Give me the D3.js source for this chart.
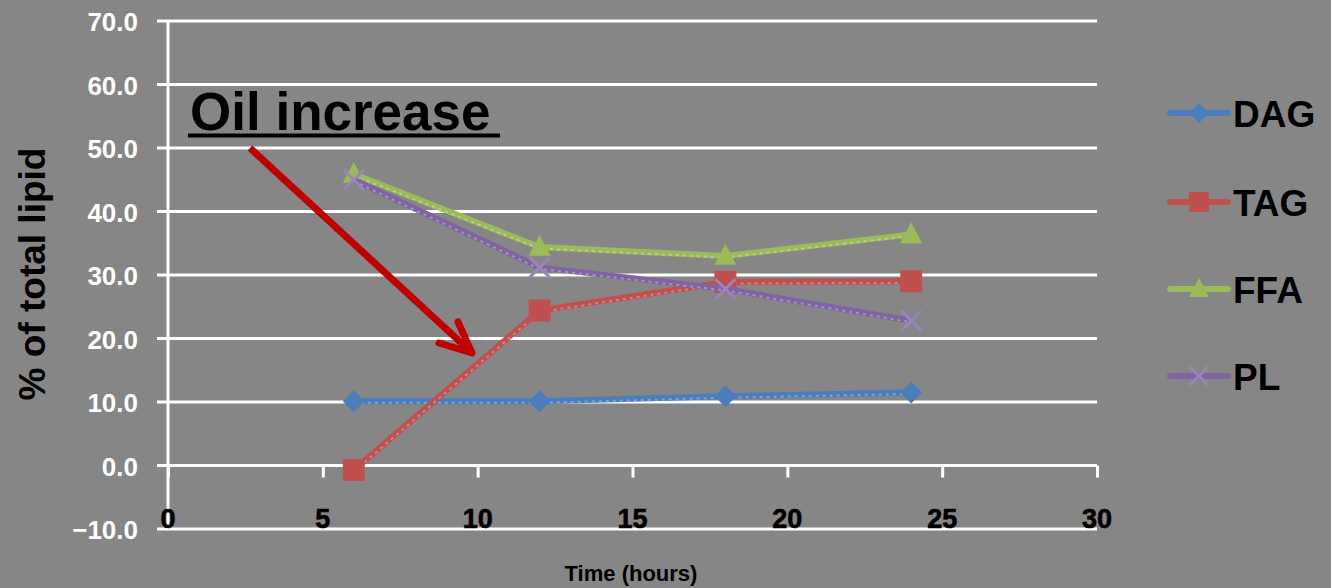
<!DOCTYPE html>
<html lang="en">
<head>
<meta charset="UTF-8">
<title>Lipid composition over time</title>
<style>
  body { margin: 0; background: #868686; }
  svg { display: block; }
  text { font-family: "Liberation Sans", Arial, sans-serif; font-weight: bold; }
  .grid { stroke: #fff; stroke-width: 3; }
  .domain { display: none; }
</style>
</head>
<body>
<svg width="1331" height="588"></svg>
<script src="https://d3js.org/d3.v7.min.js"></script>
<script>
// data
var hours = [6, 12, 18, 24];
var dag = [10.1, 10.1, 10.9, 11.5];
var tag = [-0.7, 24.4, 28.9, 29.0];
var ffa = [45.9, 34.4, 33.0, 36.4];
var pl  = [45.0, 31.2, 27.8, 22.8];
var seriesNames = ["DAG", "TAG", "FFA", "PL"];
var seriesColors = ["#4a7ebb", "#c0504d", "#9bbb59", "#8064a2"];
var xTicks = [0, 5, 10, 15, 20, 25, 30];
var yTicks = [-10, 0, 10, 20, 30, 40, 50, 60, 70];

var series = [dag, tag, ffa, pl].map(function(vals, i) {
  return { name: seriesNames[i], color: seriesColors[i],
           points: vals.map(function(v, j) { return { x: hours[j], y: v }; }) };
});

var svg = d3.select("svg");

var x = d3.scaleLinear().domain([0, 30]).range([168, 1097]);
var y = d3.scaleLinear().domain([-10, 70]).range([529, 21]);

// horizontal grid lines
svg.append("g").selectAll("line")
  .data(yTicks)
  .enter().append("line")
  .attr("class", "grid")
  .attr("x1", x(0) - 11).attr("x2", x(30))
  .attr("y1", function(d) { return y(d); })
  .attr("y2", function(d) { return y(d); });

// vertical axis line
svg.append("line")
  .attr("class", "grid")
  .attr("x1", x(0)).attr("x2", x(0))
  .attr("y1", y(70)).attr("y2", y(-10));

// y axis labels
svg.append("g").selectAll("text")
  .data(yTicks)
  .enter().append("text")
  .attr("x", 138)
  .attr("y", function(d) { return y(d) + 10; })
  .attr("text-anchor", "end")
  .attr("font-size", 26)
  .attr("fill", "#ffffff")
  .text(d3.format(".1f"));

// x axis ticks on the zero line
var xAxis = svg.append("g")
  .attr("transform", "translate(0," + y(0) + ")")
  .call(d3.axisBottom(x).tickValues(xTicks).tickSize(12).tickFormat(""));
xAxis.selectAll("line").attr("stroke", "#fff").attr("stroke-width", 3);

// x labels sit between the 0 and -10 lines
svg.append("g").selectAll("text")
  .data(xTicks)
  .enter().append("text")
  .attr("x", function(d) { return x(d); })
  .attr("y", 528)
  .attr("text-anchor", "middle")
  .attr("font-size", 27)
  .attr("fill", "#000000")
  .attr("stroke", "#000000")
  .attr("stroke-width", 0.6)
  .text(function(d) { return d; });

// axis titles
svg.append("text")
  .attr("transform", "translate(45,274) rotate(-90)")
  .attr("text-anchor", "middle")
  .attr("font-size", 37)
  .attr("fill", "#000")
  .text("% of total lipid");

svg.append("text")
  .attr("x", 631).attr("y", 581)
  .attr("text-anchor", "middle")
  .attr("font-size", 22)
  .attr("fill", "#000")
  .text("Time (hours)");

// marker shapes
function markerPath(name, s) {
  if (name === "DAG") return "M0," + -s + "L" + s + ",0L0," + s + "L" + -s + ",0Z";
  if (name === "TAG") return "M" + -s + "," + -s + "H" + s + "V" + s + "H" + -s + "Z";
  if (name === "FFA") return "M0," + (-s * 1.1) + "L" + s + "," + (s * 0.8) + "L" + -s + "," + (s * 0.8) + "Z";
  return "M" + -s + "," + -s + "L" + s + "," + s + "M" + s + "," + -s + "L" + -s + "," + s;
}

var line = d3.line()
  .x(function(d) { return x(d.x); })
  .y(function(d) { return y(d.y); });

var sg = svg.append("g").selectAll("g")
  .data(series)
  .enter().append("g");

sg.append("path")
  .attr("d", function(d) { return line(d.points); })
  .attr("fill", "none")
  .attr("stroke", function(d) { return d.color; })
  .attr("stroke-width", 6)
  .attr("stroke-linejoin", "round");

sg.append("path")
  .attr("d", function(d) { return line(d.points); })
  .attr("transform", "translate(0,1.5)")
  .attr("fill", "none")
  .attr("stroke", "#fff")
  .attr("stroke-opacity", 0.3)
  .attr("stroke-width", 2)
  .attr("stroke-dasharray", "3,4");

sg.selectAll(".mk")
  .data(function(d) { return d.points.map(function(p) { return { p: p, s: d }; }); })
  .enter().append("path")
  .attr("class", "mk")
  .attr("transform", function(d) { return "translate(" + x(d.p.x) + "," + y(d.p.y) + ")"; })
  .attr("d", function(d) { return markerPath(d.s.name, d.s.name === "PL" ? 10 : 11); })
  .attr("fill", function(d) { return d.s.name === "PL" ? "none" : d.s.color; })
  .attr("stroke", function(d) { return d.s.name === "PL" ? "#9a85bb" : "none"; })
  .attr("stroke-width", 3);

// legend
var legendY = [113, 202, 289, 376];
var lg = svg.append("g").selectAll("g")
  .data(series)
  .enter().append("g")
  .attr("transform", function(d, i) { return "translate(0," + legendY[i] + ")"; });

lg.append("line")
  .attr("x1", 1170).attr("x2", 1228)
  .attr("stroke", function(d) { return d.color; })
  .attr("stroke-width", 6)
  .attr("stroke-linecap", "round");

lg.append("path")
  .attr("transform", "translate(1199,0)")
  .attr("d", function(d) { return markerPath(d.name, d.name === "PL" ? 9 : 10); })
  .attr("fill", function(d) { return d.name === "PL" ? "none" : d.color; })
  .attr("stroke", function(d) { return d.name === "PL" ? "#9a85bb" : "none"; })
  .attr("stroke-width", 3);

lg.append("text")
  .attr("x", 1233).attr("y", 14)
  .attr("font-size", 37)
  .attr("fill", "#000")
  .text(function(d) { return d.name; });

// annotation
svg.append("text")
  .attr("x", 190).attr("y", 130)
  .attr("font-size", 53)
  .attr("fill", "#000")
  .text("Oil increase");
svg.append("line")
  .attr("x1", 188).attr("x2", 500)
  .attr("y1", 135.5).attr("y2", 135.5)
  .attr("stroke", "#000").attr("stroke-width", 4);

svg.append("line")
  .attr("x1", 250).attr("y1", 148).attr("x2", 470).attr("y2", 351)
  .attr("stroke", "#c00000").attr("stroke-width", 7);
svg.append("path")
  .attr("d", "M458,322L472,353L439,343")
  .attr("fill", "none")
  .attr("stroke", "#c00000").attr("stroke-width", 7)
  .attr("stroke-linecap", "round").attr("stroke-linejoin", "round");
</script>
</body>
</html>
